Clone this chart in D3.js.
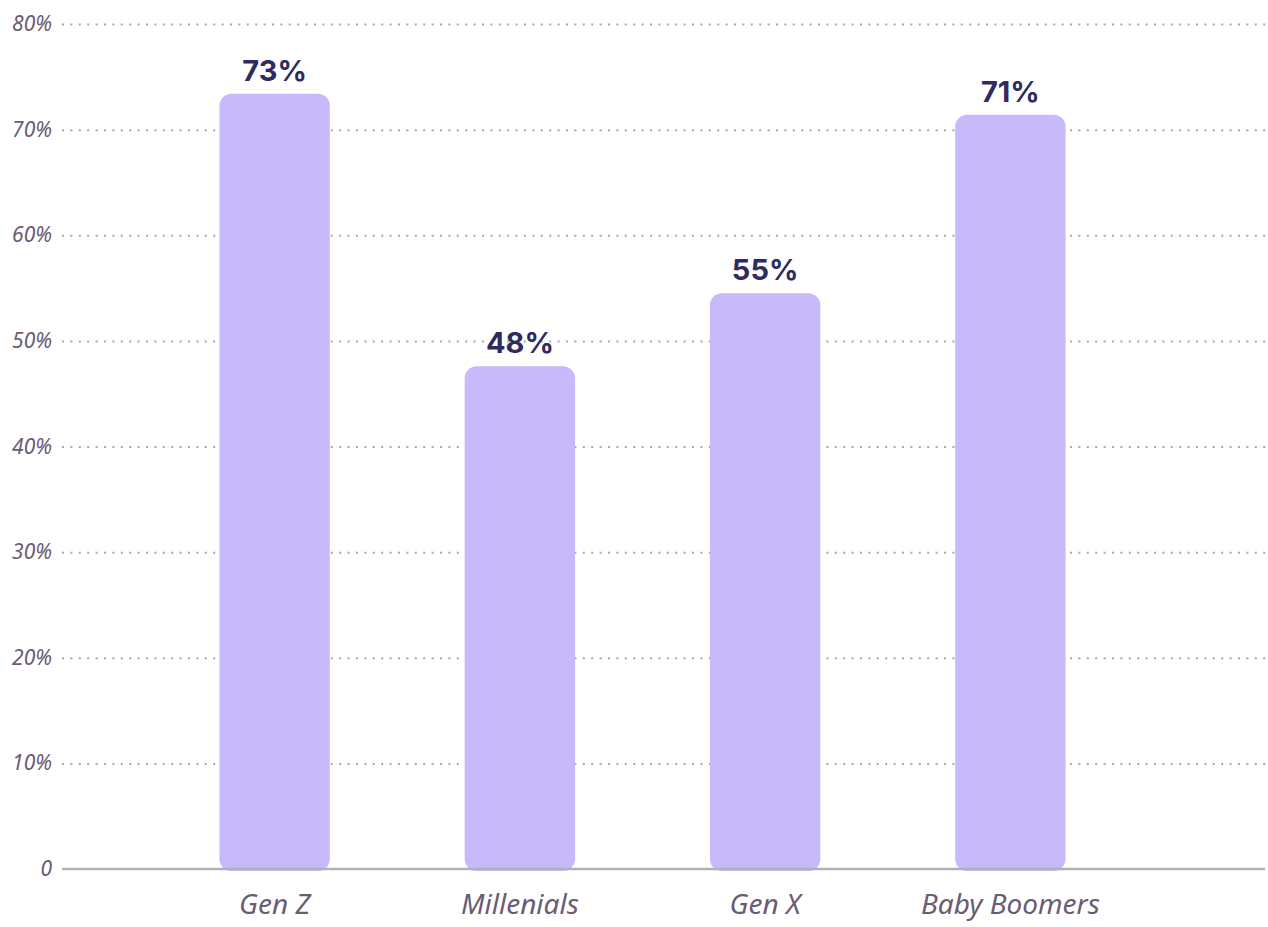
<!DOCTYPE html>
<html>
<head>
<meta charset="utf-8">
<script src="https://cdn.jsdelivr.net/npm/d3@7"></script>
<style>
  body { margin: 0; background: #fff; }
  .tick-label { font-family: "Noto Sans", sans-serif; font-style: italic; fill: #6b5b73; }
  .value-label { font-family: Inter, Roboto, sans-serif; font-weight: 700; fill: #2f2a5f; }
</style>
</head>
<body>
<div id="chart"></div>
<script>
var categories = ["Gen Z", "Millenials", "Gen X", "Baby Boomers"];
var values = [73.4, 47.6, 54.5, 71.4];
var valueLabels = ["73%", "48%", "55%", "71%"];
var yTicks = [0, 10, 20, 30, 40, 50, 60, 70, 80];

var svgWidth = 1268;
var svgHeight = 927;

var svg = d3.select("#chart")
  .append("svg")
  .attr("width", svgWidth)
  .attr("height", svgHeight);

// scales
var xScale = d3.scaleBand()
  .domain(categories)
  .range([152, 1133])
  .paddingInner(0.55)
  .paddingOuter(0.275);

var yScale = d3.scaleLinear()
  .domain([0, 80])
  .range([869, 24]);

// gridlines
var grid = svg.append("g")
  .attr("transform", "translate(62,0)")
  .call(d3.axisLeft(yScale)
    .tickValues(yTicks.slice(1))
    .tickSize(-1206)
    .tickFormat(""));
grid.select(".domain").remove();
grid.selectAll("line")
  .attr("stroke", "#a9a9ad")
  .attr("stroke-width", 2)
  .attr("stroke-dasharray", "2 6.4");

// y tick labels
svg.selectAll(".tick-label")
  .data(yTicks)
  .enter()
  .append("text")
  .attr("class", "tick-label")
  .attr("x", 52)
  .attr("y", d => yScale(d) + 7)
  .attr("text-anchor", "end")
  .attr("font-size", 21)
  .text(d => d === 0 ? "0" : d + "%");

// bars
svg.selectAll(".bar")
  .data(values)
  .enter()
  .append("rect")
  .attr("class", "bar")
  .attr("x", (d, i) => xScale(categories[i]))
  .attr("y", d => yScale(d))
  .attr("width", xScale.bandwidth())
  .attr("height", d => yScale(0) - yScale(d) + 2)
  .attr("rx", 12)
  .attr("fill", "#c7b9fa");

// baseline
svg.append("line")
  .attr("x1", 62)
  .attr("x2", 1265)
  .attr("y1", yScale(0))
  .attr("y2", yScale(0))
  .attr("stroke", "#b3b1b6")
  .attr("stroke-width", 2.5);

// value labels
svg.selectAll(".value-label")
  .data(values)
  .enter()
  .append("text")
  .attr("class", "value-label")
  .attr("x", (d, i) => xScale(categories[i]) + xScale.bandwidth() / 2)
  .attr("y", d => yScale(d) - 13)
  .attr("text-anchor", "middle")
  .attr("font-size", 29)
  .text((d, i) => valueLabels[i]);

// category labels
var xAxis = svg.append("g")
  .attr("transform", "translate(0," + yScale(0) + ")")
  .call(d3.axisBottom(xScale).tickSize(0));
xAxis.select(".domain").remove();
xAxis.selectAll("text")
  .attr("y", 45)
  .attr("dy", 0)
  .attr("font-size", 28)
  .attr("fill", "#6b5b73")
  .style("font-family", "'Noto Sans', sans-serif")
  .style("font-style", "italic");
</script>
</body>
</html>
